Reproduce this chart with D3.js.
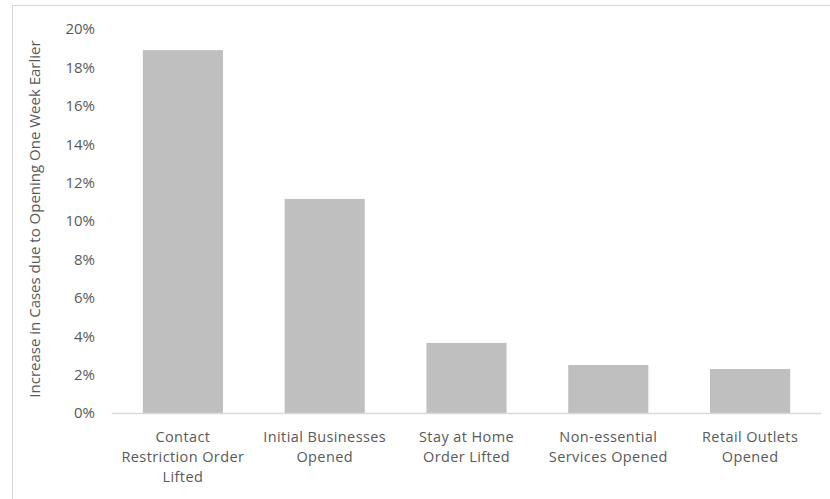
<!DOCTYPE html>
<meta charset="utf-8">
<style>
body { margin: 0; background: #fff; }
svg text { font-family: "Open Sans", "Liberation Sans", sans-serif; fill: #595959; }
</style>
<svg width="830" height="499"></svg>
<script src="https://cdn.jsdelivr.net/npm/d3@7"></script>
<script>

// categories, each split into the lines shown under the axis
var categories = [
  ["Contact", "Restriction Order", "Lifted"],
  ["Initial Businesses", "Opened"],
  ["Stay at Home", "Order Lifted"],
  ["Non-essential", "Services Opened"],
  ["Retail Outlets", "Opened"]
];
var increase = [0.189, 0.1115, 0.0365, 0.025, 0.0229];
var yTicks = [0, 0.02, 0.04, 0.06, 0.08, 0.10, 0.12, 0.14, 0.16, 0.18, 0.20];
var yTitle = "Increase in Cases due to Opening One Week Earlier";

var svg = d3.select("svg"),
    margin = {top: 29, right: 9, bottom: 86, left: 112},
    width = +svg.attr("width") - margin.left - margin.right,
    height = +svg.attr("height") - margin.top - margin.bottom;

// chart area border (runs off the right and bottom of the picture)
svg.append("rect")
    .attr("x", 12.5).attr("y", 5.5)
    .attr("width", 840).attr("height", 520)
    .attr("fill", "none")
    .attr("stroke", "#d9d9d9");

var g = svg.append("g").attr("transform", "translate(" + margin.left + "," + margin.top + ")");

var x = d3.scaleBand()
    .domain(d3.range(categories.length))
    .range([0, width])
    .paddingInner(0.435)
    .paddingOuter(0.2175);

var y = d3.scaleLinear()
    .domain([0, 0.20])
    .range([height, 0]);

g.selectAll(".bar")
  .data(increase)
  .enter().append("rect")
    .attr("class", "bar")
    .attr("x", function(d, i) { return x(i); })
    .attr("y", function(d) { return y(d); })
    .attr("width", x.bandwidth())
    .attr("height", function(d) { return y(0) - y(d); })
    .attr("fill", "#bfbfbf");

// y axis labels, no line
var yAxis = g.append("g")
    .call(d3.axisLeft(y).tickValues(yTicks).tickFormat(d3.format(".0%")).tickSize(0).tickPadding(17));
yAxis.select(".domain").remove();
yAxis.selectAll("text")
    .style("font-size", "15px")
    .attr("fill", "#595959");

// x axis line
g.append("line")
    .attr("x1", 0).attr("x2", width)
    .attr("y1", height + 0.5).attr("y2", height + 0.5)
    .attr("stroke", "#d9d9d9")
    .attr("stroke-width", 1.5);

// category labels
var labels = g.selectAll(".cat")
  .data(categories)
  .enter().append("text")
    .attr("class", "cat")
    .attr("text-anchor", "middle")
    .attr("transform", function(d, i) { return "translate(" + (x(i) + x.bandwidth() / 2) + "," + (height + 29) + ")"; })
    .style("font-size", "14.5px")
    .style("letter-spacing", "0.4px");
labels.selectAll("tspan")
  .data(function(d) { return d; })
  .enter().append("tspan")
    .attr("x", 0)
    .attr("dy", function(d, i) { return i === 0 ? 0 : 20; })
    .text(function(d) { return d; });

svg.append("text")
    .attr("transform", "translate(40," + (margin.top + height / 2 - 2) + ") rotate(-90)")
    .attr("text-anchor", "middle")
    .style("font-size", "15px")
    .text(yTitle);

</script>
